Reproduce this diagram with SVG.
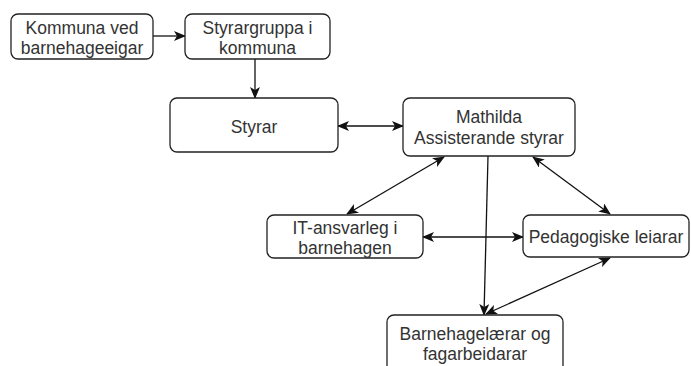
<svg xmlns="http://www.w3.org/2000/svg" width="691" height="366" viewBox="0 0 691 366">
<style>
.box{fill:#fff;stroke:#222;stroke-width:1.3}
.t{font-family:"Liberation Sans",Arial,sans-serif;font-size:17.5px;fill:#333;text-anchor:middle}
.c{fill:none;stroke:#111;stroke-width:1.3}
</style>
<defs>
<marker id="a" viewBox="0 0 12 10" refX="11" refY="5" markerWidth="12" markerHeight="10" markerUnits="userSpaceOnUse" orient="auto-start-reverse">
<path d="M0,0 L12,5 L0,10 L3,5 Z" fill="#111"/>
</marker>
</defs>
<rect width="691" height="366" fill="#fff"/>
<g id="connectors">
<line class="c" x1="153" y1="36" x2="185" y2="36" marker-end="url(#a)"/>
<line class="c" x1="255" y1="59" x2="255" y2="98" marker-end="url(#a)"/>
<line class="c" x1="338" y1="126" x2="403" y2="126" marker-start="url(#a)" marker-end="url(#a)"/>
<line class="c" x1="444" y1="157" x2="347" y2="214" marker-start="url(#a)" marker-end="url(#a)"/>
<line class="c" x1="533" y1="157" x2="610" y2="214" marker-start="url(#a)" marker-end="url(#a)"/>
<line class="c" x1="423" y1="237" x2="523" y2="237" marker-start="url(#a)" marker-end="url(#a)"/>
<line class="c" x1="488" y1="156" x2="484" y2="315" marker-end="url(#a)"/>
<line class="c" x1="486" y1="314" x2="610" y2="258" marker-start="url(#a)" marker-end="url(#a)"/>
</g>
<g id="kommuna">
<rect class="box" x="11" y="14" width="142" height="45" rx="7"/>
<text class="t" x="82" y="34">Kommuna ved</text>
<text class="t" x="82" y="54">barnehageeigar</text>
</g>
<g id="styrargruppa">
<rect class="box" x="185" y="14" width="145" height="45" rx="7"/>
<text class="t" x="257.5" y="34">Styrargruppa i</text>
<text class="t" x="257.5" y="54">kommuna</text>
</g>
<g id="styrar">
<rect class="box" x="170" y="98" width="168" height="54" rx="7"/>
<text class="t" x="254" y="133">Styrar</text>
</g>
<g id="mathilda">
<rect class="box" x="403" y="98" width="172" height="58" rx="7"/>
<text class="t" x="489" y="123">Mathilda</text>
<text class="t" x="489" y="144">Assisterande styrar</text>
</g>
<g id="it">
<rect class="box" x="267" y="215" width="156" height="43" rx="7"/>
<text class="t" x="345" y="234">IT-ansvarleg i</text>
<text class="t" x="345" y="254">barnehagen</text>
</g>
<g id="pedagogiske">
<rect class="box" x="523" y="215" width="166" height="42" rx="7"/>
<text class="t" x="606" y="243">Pedagogiske leiarar</text>
</g>
<g id="barnehage">
<rect class="box" x="387" y="315" width="176" height="60" rx="7"/>
<text class="t" x="475" y="340">Barnehagelærar og</text>
<text class="t" x="475" y="360">fagarbeidarar</text>
</g>
</svg>
